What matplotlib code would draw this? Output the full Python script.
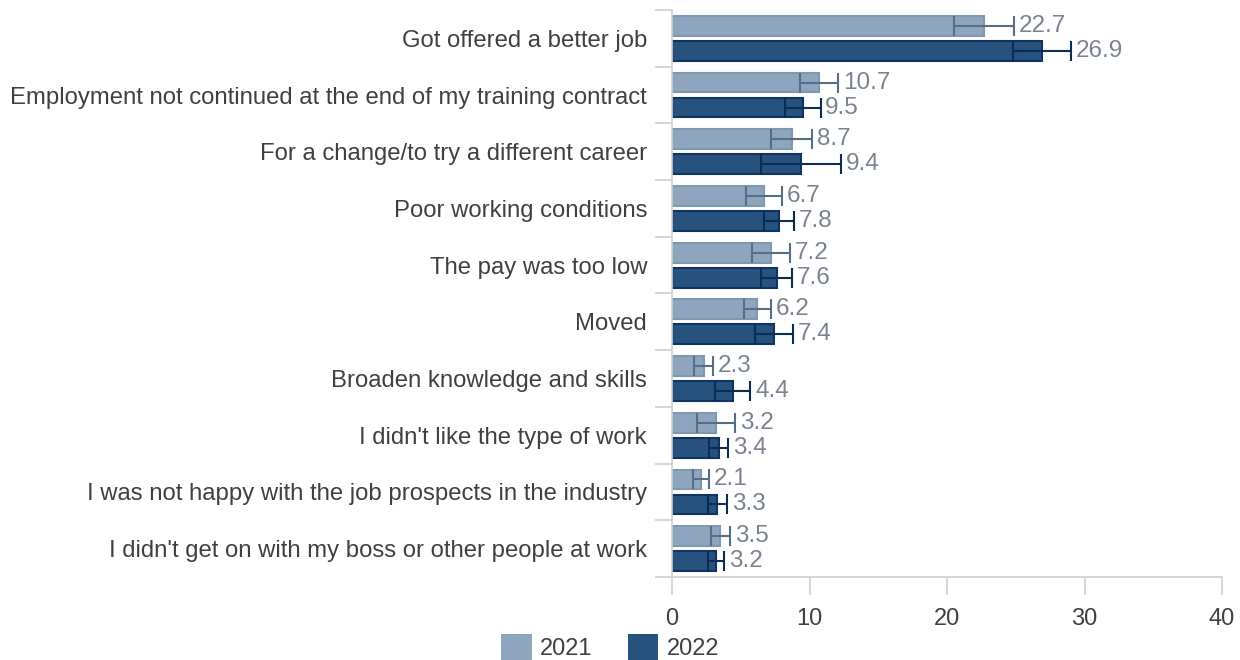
import matplotlib
matplotlib.use("Agg")
import matplotlib.pyplot as plt
import numpy as np
from matplotlib.patches import Patch

plt.rcParams['font.family'] = ['Liberation Sans', 'DejaVu Sans']

reasons = [
    "Got offered a better job",
    "Employment not continued at the end of my training contract",
    "For a change/to try a different career",
    "Poor working conditions",
    "The pay was too low",
    "Moved",
    "Broaden knowledge and skills",
    "I didn't like the type of work",
    "I was not happy with the job prospects in the industry",
    "I didn't get on with my boss or other people at work",
]
values_2021 = [22.7, 10.7, 8.7, 6.7, 7.2, 6.2, 2.3, 3.2, 2.1, 3.5]
values_2022 = [26.9, 9.5, 9.4, 7.8, 7.6, 7.4, 4.4, 3.4, 3.3, 3.2]
ci_2021 = [2.2, 1.4, 1.5, 1.3, 1.4, 1.0, 0.7, 1.4, 0.6, 0.7]
ci_2022 = [2.1, 1.3, 2.9, 1.1, 1.1, 1.4, 1.3, 0.7, 0.7, 0.6]
x_ticks = [0, 10, 20, 30, 40]
series_names = ["2021", "2022"]

light_fill = "#8da5bd"
light_edge = "#7f98b1"
light_err = "#566e86"
dark_fill = "#28527e"
dark_edge = "#0d3463"
dark_err = "#0b2c55"
label_col = "#7a8490"
text_col = "#404040"
axis_col = "#d0d0d0"

fig = plt.figure(figsize=(12.4, 6.6), dpi=100)
ax = fig.add_axes([672 / 1240, 1 - 577 / 660, 550 / 1240, 567 / 660])

n = len(reasons)
y = np.arange(n)
off = 0.22
h = 0.35

ax.barh(y - off, values_2021, height=h, color=light_fill, edgecolor=light_edge, linewidth=1.5, zorder=2)
ax.barh(y + off, values_2022, height=h, color=dark_fill, edgecolor=dark_edge, linewidth=1.5, zorder=2)
ax.errorbar(values_2021, y - off, xerr=ci_2021, fmt='none', ecolor=light_err, elinewidth=1.5,
            capsize=7.5, capthick=1.5, zorder=3)
ax.errorbar(values_2022, y + off, xerr=ci_2022, fmt='none', ecolor=dark_err, elinewidth=1.5,
            capsize=7.5, capthick=1.5, zorder=3)

gap = 0.35
for yi, v, e in zip(y, values_2021, ci_2021):
    ax.text(v + e + gap, yi - off, f"{v:.1f}", va='center', ha='left', fontsize=17.5, color=label_col)
for yi, v, e in zip(y, values_2022, ci_2022):
    ax.text(v + e + gap, yi + off, f"{v:.1f}", va='center', ha='left', fontsize=17.5, color=label_col)

ax.set_xlim(0, 40)
ax.set_ylim(n - 0.5, -0.5)
ax.set_xticks(x_ticks)
ax.set_xticklabels([str(t) for t in x_ticks], fontsize=17, color=text_col)
ax.tick_params(axis='x', length=13, width=1.2, color=axis_col, pad=9)

# category labels at group centres, separator ticks between groups
ax.set_yticks(y)
ax.set_yticklabels(reasons, fontsize=17.2, color=text_col)
ax.tick_params(axis='y', which='major', length=0, pad=18)
ax.set_yticks(np.arange(-0.5, n + 0.5, 1), minor=True)
ax.tick_params(axis='y', which='minor', length=12, width=1.2, color=axis_col)

for side in ['top', 'right']:
    ax.spines[side].set_visible(False)
ax.spines['left'].set_color(axis_col)
ax.spines['left'].set_linewidth(1.2)
ax.spines['bottom'].set_color(axis_col)
ax.spines['bottom'].set_linewidth(1.2)

handles = [Patch(facecolor=light_fill, edgecolor='none'), Patch(facecolor=dark_fill, edgecolor='none')]
fig.legend(handles, series_names, loc='center', bbox_to_anchor=(610 / 1240, 1 - 647 / 660), ncol=2,
           frameon=False, fontsize=17, handlelength=1.3, handleheight=1.3, columnspacing=1.5,
           handletextpad=0.35, labelcolor=text_col, borderpad=0.1)

fig.savefig("out.png", dpi=100)
